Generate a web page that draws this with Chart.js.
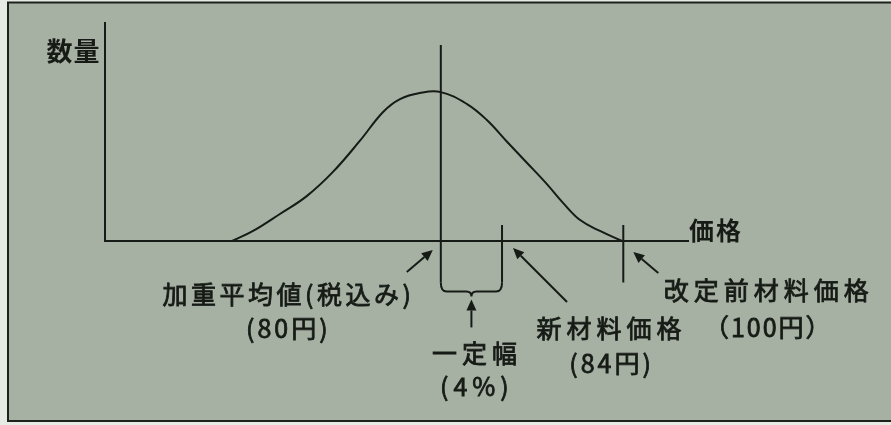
<!DOCTYPE html>
<html>
<head>
<meta charset="utf-8">
<script src="https://cdn.jsdelivr.net/npm/chart.js@4.4.1/dist/chart.umd.min.js"></script>
<style>
  html, body { margin: 0; padding: 0; background: #e6ebe3; }
  #wrap { width: 891px; height: 425px; }
</style>
</head>
<body>
<div id="wrap"><canvas id="c" width="891" height="425"></canvas></div>
<script>
// ---- data (relative price units 0-100 on x, relative quantity 0-100 on y) ----
const curveX = [21.8, 25.4, 30.0, 34.6, 39.1, 43.7, 47.7, 50.6, 54.0, 57.6, 62.1, 65.5, 69.0, 72.4, 75.8, 78.6, 81.5, 84.9, 88.7];
const curveY = [0, 4.6, 12.4, 20.6, 31.7, 45.9, 59.2, 65.1, 67.9, 68.3, 62.8, 55.5, 45.4, 35.8, 26.1, 17.4, 9.6, 4.6, 0];

const markerX = [57.6, 68.1, 88.9];          // 加重平均値, 新材料価格, 改定前材料価格
const markerTop = [89.9, 7.3, 7.3];
const markerBottom = [-19, -19, -19];
const markerNames = ['加重平均値(税込み)', '新材料価格', '改定前材料価格'];
const markerPrices = ['(80円)', '(84円)', '（100円）'];
const bandLabels = ['一定幅', '(4%)'];
const axisTitles = ['数量', '価格'];

const INK = '#161b16';
const FONT = '"Noto Sans CJK JP", "Noto Sans", sans-serif';

const markerDatasets = markerX.map((x, i) => ({
  data: [{x: x, y: markerTop[i]}, {x: x, y: markerBottom[i]}],
  borderColor: INK, borderWidth: 2, pointRadius: 0, clip: false, tension: 0
}));

function arrow(ctx, x1, y1, x2, y2) {
  const ang = Math.atan2(y2 - y1, x2 - x1);
  const L = 11, W = 5;
  const bx = x2 - L * Math.cos(ang), by = y2 - L * Math.sin(ang);
  ctx.beginPath(); ctx.moveTo(x1, y1); ctx.lineTo(bx, by); ctx.stroke();
  ctx.beginPath();
  ctx.moveTo(x2, y2);
  ctx.lineTo(bx + W * Math.sin(ang), by - W * Math.cos(ang));
  ctx.lineTo(bx - W * Math.sin(ang), by + W * Math.cos(ang));
  ctx.closePath(); ctx.fill();
}

function text(ctx, s, x, y, size, weight, spacing, stroke) {
  ctx.font = (weight || 'normal') + ' ' + size + 'px ' + FONT;
  ctx.letterSpacing = (spacing || 0) + 'px';
  ctx.textBaseline = 'middle';
  ctx.textAlign = 'left';
  const w = ctx.measureText(s).width;
  const x0 = x - w / 2 + (spacing || 0) / 2;
  ctx.fillText(s, x0, y);
  if (stroke) { ctx.lineWidth = stroke; ctx.strokeText(s, x0, y); }
}

const decor = {
  id: 'decor',
  beforeDraw(chart) {
    const ctx = chart.ctx;
    ctx.save();
    ctx.fillStyle = '#a7b1a3';
    ctx.fillRect(8, 3, 891 - 8, 418);
    ctx.strokeStyle = '#1d221d'; ctx.lineWidth = 2;
    ctx.beginPath();
    ctx.moveTo(892, 2.5); ctx.lineTo(8, 2.5); ctx.lineTo(8, 421); ctx.lineTo(892, 421);
    ctx.stroke();
    ctx.restore();
  },
  afterDraw(chart) {
    const ctx = chart.ctx;
    const xs = chart.scales.x, ys = chart.scales.y;
    const ax = xs.left, ay = ys.bottom, axEnd = xs.right, ayTop = ys.top;
    const px = markerX.map(v => xs.getPixelForValue(v));
    ctx.save();
    ctx.strokeStyle = INK; ctx.fillStyle = INK; ctx.lineWidth = 2;

    // brace joining the mean and new-price lines
    const yTop = ys.getPixelForValue(-19), yh = yTop + 9, r = 6;
    const xa = px[0], xb = px[1], xm = (xa + xb) / 2;
    ctx.beginPath();
    ctx.moveTo(xa, yTop);
    ctx.quadraticCurveTo(xa, yh, xa + r, yh);
    ctx.lineTo(xm - 5, yh);
    ctx.quadraticCurveTo(xm, yh, xm, yh + 5);
    ctx.quadraticCurveTo(xm, yh, xm + 5, yh);
    ctx.lineTo(xb - r, yh);
    ctx.quadraticCurveTo(xb, yh, xb, yTop);
    ctx.stroke();
    arrow(ctx, xm, yh + 36, xm, yh + 8);

    // arrows to the markers
    arrow(ctx, px[0] - 34, ay + 31, px[0] - 8, ay + 9);
    arrow(ctx, px[1] + 65, ay + 61, px[1] + 11, ay + 7);
    arrow(ctx, px[2] + 35, ay + 32, px[2] + 10, ay + 11);

    // labels
    const S = 0.8;
    text(ctx, markerNames[0], px[0] - 154, ay + 53, 25, 'normal', 3.5, S);
    text(ctx, markerPrices[0], px[0] - 154, ay + 87, 25, 'normal', 3, S);
    text(ctx, bandLabels[0], xm + 3, ay + 112, 25, 'normal', 5, S);
    text(ctx, bandLabels[1], xm + 3, ay + 145, 25, 'normal', 5, S);
    text(ctx, markerNames[1], px[1] + 107, ay + 87, 25, 'normal', 5, S);
    text(ctx, markerPrices[1], px[1] + 108, ay + 122, 25, 'normal', 3, S);
    text(ctx, markerNames[2], px[2] + 143, ay + 49, 25, 'normal', 5, S);
    text(ctx, markerPrices[2], px[2] + 144, ay + 86, 25, 'normal', 2, S);

    // axis titles
    text(ctx, axisTitles[0], ax - 32, ayTop + 28, 26, 'bold', 1, 0);
    ctx.font = 'bold 25px ' + FONT; ctx.letterSpacing = '2px';
    ctx.textAlign = 'left'; ctx.textBaseline = 'middle';
    ctx.fillText(axisTitles[1], axEnd + 1, ay - 11);
    ctx.restore();
  }
};

new Chart(document.getElementById('c'), {
  type: 'line',
  data: {
    datasets: [{
      data: curveX.map((x, i) => ({x: x, y: curveY[i]})),
      borderColor: INK, borderWidth: 2, pointRadius: 0,
      tension: 0.4, fill: false
    }].concat(markerDatasets)
  },
  options: {
    responsive: false,
    animation: false,
    devicePixelRatio: 1,
    layout: { padding: { left: 105, top: 23, right: 203, bottom: 184 } },
    plugins: { legend: { display: false }, tooltip: { enabled: false } },
    scales: {
      x: {
        type: 'linear', min: 0, max: 100,
        ticks: { display: false }, grid: { display: false, drawTicks: false },
        border: { display: true, color: INK, width: 2 }
      },
      y: {
        type: 'linear', min: 0, max: 100,
        ticks: { display: false }, grid: { display: false, drawTicks: false },
        border: { display: true, color: INK, width: 2 }
      }
    }
  },
  plugins: [decor]
});
</script>
</body>
</html>
